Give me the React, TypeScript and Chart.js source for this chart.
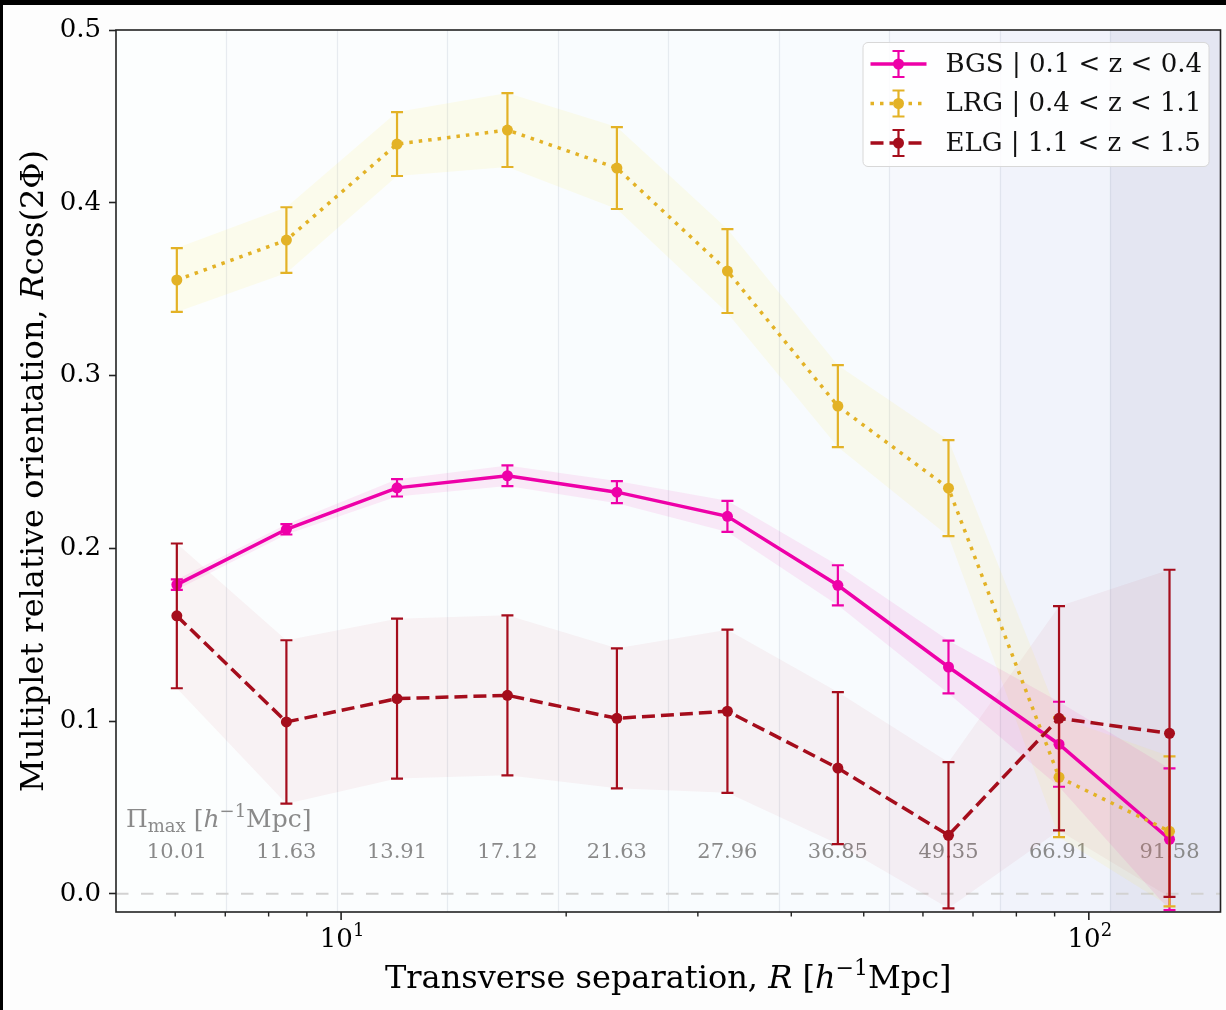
import React, { useEffect, useRef } from 'react';
import { Chart, registerables } from 'chart.js';

Chart.register(...registerables);

// ---------------- data ----------------
const R_CENTERS = [6.03, 8.45, 11.88, 16.69, 23.38, 32.86, 46.17, 64.91, 91.23, 128.2];
const BIN_EDGES = [5.0, 7.02, 9.87, 13.87, 19.49, 27.38, 38.47, 54.06, 75.96, 106.7, 150];
const PI_MAX = [10.01, 11.63, 13.91, 17.12, 21.63, 27.96, 36.85, 49.35, 66.91, 91.58];

const SERIES_NAMES = ['BGS | 0.1 < z < 0.4', 'LRG | 0.4 < z < 1.1', 'ELG | 1.1 < z < 1.5'];

const BGS_Y = [0.179, 0.211, 0.235, 0.242, 0.2325, 0.2185, 0.1786, 0.1313, 0.0866, 0.0316];
const BGS_ERR = [0.003, 0.003, 0.005, 0.006, 0.0064, 0.009, 0.0116, 0.0153, 0.0246, 0.041];

const LRG_Y = [0.3553, 0.3784, 0.434, 0.4421, 0.4201, 0.3605, 0.2823, 0.2348, 0.0675, 0.0362];
const LRG_ERR = [0.0185, 0.019, 0.0185, 0.0214, 0.0237, 0.0243, 0.0237, 0.0278, 0.0347, 0.0434];

const ELG_Y = [0.1609, 0.0995, 0.113, 0.1149, 0.1016, 0.1057, 0.0728, 0.0339, 0.1016, 0.0929];
const ELG_ERR = [0.0419, 0.0473, 0.0463, 0.0463, 0.0405, 0.0472, 0.044, 0.0423, 0.0649, 0.0947];

const Y_TICKS = [0.0, 0.1, 0.2, 0.3, 0.4, 0.5];
const X_MAJOR_TICKS = [10, 100];
const X_MINOR_TICKS = [6, 7, 8, 9, 20, 30, 40, 50, 60, 70, 80, 90];

// ---------------- styles ----------------
const FONT = "'DejaVu Serif', serif";
const COLORS = ['#ee00a8', '#e3b226', '#a50d1c'];
const BAND_FILLS = ['rgba(238,0,168,0.08)', 'rgba(255,228,50,0.09)', 'rgba(200,30,50,0.05)'];
const DASHES: number[][] = [[], [3.5, 6], [13, 6]];
const BIN_COLORS = ['#fcfefe', '#fbfdfe', '#fbfdfe', '#fafdfe', '#f9fcfe', '#f9fcfe', '#f8fbfe', '#f6f8fd', '#f1f3fb', '#e4e6f2'];

const seriesY = [BGS_Y, LRG_Y, ELG_Y];
const seriesErr = [BGS_ERR, LRG_ERR, ELG_ERR];

type Part = { t: string; font: string; dy?: number };

function drawParts(ctx: CanvasRenderingContext2D, parts: Part[], x: number, y: number, align: 'left' | 'center') {
  let total = 0;
  const widths = parts.map((p) => {
    ctx.font = p.font;
    const w = ctx.measureText(p.t).width;
    total += w;
    return w;
  });
  let cx = align === 'center' ? x - total / 2 : x;
  parts.forEach((p, i) => {
    ctx.font = p.font;
    ctx.fillText(p.t, cx, y + (p.dy || 0));
    cx += widths[i];
  });
}

const customPlugin = {
  id: 'custom',
  beforeDraw(chart: any) {
    const { ctx, width, height } = chart;
    ctx.save();
    ctx.fillStyle = '#fdfdfd';
    ctx.fillRect(0, 0, width, height);
    ctx.fillStyle = '#000';
    ctx.fillRect(0, 0, width, 5);
    ctx.fillRect(0, 0, 3, height);
    ctx.restore();
  },
  beforeDatasetsDraw(chart: any) {
    const { ctx, chartArea: a } = chart;
    const x = chart.scales.x;
    const y = chart.scales.y;
    ctx.save();
    ctx.beginPath();
    ctx.rect(a.left, a.top, a.right - a.left, a.bottom - a.top);
    ctx.clip();
    for (let i = 0; i < BIN_EDGES.length - 1; i++) {
      const x0 = x.getPixelForValue(BIN_EDGES[i]);
      const x1 = x.getPixelForValue(BIN_EDGES[i + 1]);
      ctx.fillStyle = BIN_COLORS[i];
      ctx.fillRect(x0, a.top, x1 - x0, a.bottom - a.top);
    }
    ctx.strokeStyle = 'rgba(185,195,210,0.3)';
    ctx.lineWidth = 1.2;
    for (let i = 1; i < BIN_EDGES.length - 1; i++) {
      const px = Math.round(x.getPixelForValue(BIN_EDGES[i])) + 0.5;
      ctx.beginPath();
      ctx.moveTo(px, a.top);
      ctx.lineTo(px, a.bottom);
      ctx.stroke();
    }
    // zero line
    const y0 = y.getPixelForValue(0);
    ctx.strokeStyle = '#d2d2d2';
    ctx.lineWidth = 2;
    ctx.setLineDash([12.5, 12.5]);
    ctx.beginPath();
    ctx.moveTo(a.left, y0);
    ctx.lineTo(a.right, y0);
    ctx.stroke();
    ctx.setLineDash([]);
    // Pi_max labels
    ctx.fillStyle = '#8a8a8a';
    ctx.textBaseline = 'middle';
    ctx.textAlign = 'center';
    ctx.font = `21px ${FONT}`;
    const ly = y.getPixelForValue(0.024);
    PI_MAX.forEach((v, i) => {
      ctx.fillText(v.toFixed(2), x.getPixelForValue(R_CENTERS[i]), ly);
    });
    ctx.textAlign = 'left';
    ctx.textBaseline = 'alphabetic';
    const hy = y.getPixelForValue(0.0437) + 9;
    drawParts(
      ctx,
      [
        { t: 'Π', font: `25px ${FONT}` },
        { t: 'max', font: `18px ${FONT}`, dy: 5 },
        { t: ' [', font: `25px ${FONT}` },
        { t: 'h', font: `italic 25px ${FONT}` },
        { t: '−1', font: `18px ${FONT}`, dy: -10 },
        { t: 'Mpc]', font: `25px ${FONT}` },
      ],
      a.left + 10,
      hy,
      'left'
    );
    ctx.restore();
  },
  beforeDatasetDraw(chart: any, args: any) {
    const ds: any = chart.data.datasets[args.index];
    if (!ds.errors) return;
    const { ctx } = chart;
    const y = chart.scales.y;
    ctx.save();
    ctx.strokeStyle = ds.borderColor;
    ctx.lineWidth = 2.2;
    ctx.setLineDash([]);
    args.meta.data.forEach((pt: any, j: number) => {
      const v = ds.data[j].y;
      const e = ds.errors[j];
      const yt = y.getPixelForValue(v + e);
      const yb = y.getPixelForValue(v - e);
      ctx.beginPath();
      ctx.moveTo(pt.x, yt);
      ctx.lineTo(pt.x, yb);
      ctx.moveTo(pt.x - 6, yt);
      ctx.lineTo(pt.x + 6, yt);
      ctx.moveTo(pt.x - 6, yb);
      ctx.lineTo(pt.x + 6, yb);
      ctx.stroke();
    });
    ctx.restore();
  },
  afterDatasetsDraw(chart: any) {
    const { ctx, chartArea: a } = chart;
    const x = chart.scales.x;
    ctx.save();
    // spines
    ctx.strokeStyle = '#222';
    ctx.lineWidth = 1.6;
    ctx.strokeRect(a.left, a.top, a.right - a.left, a.bottom - a.top);
    // x ticks
    ctx.strokeStyle = '#222';
    ctx.lineWidth = 1.4;
    X_MINOR_TICKS.forEach((v) => {
      const px = x.getPixelForValue(v);
      ctx.beginPath();
      ctx.moveTo(px, a.bottom);
      ctx.lineTo(px, a.bottom + 4.5);
      ctx.stroke();
    });
    ctx.lineWidth = 1.6;
    ctx.fillStyle = '#000';
    ctx.textBaseline = 'alphabetic';
    X_MAJOR_TICKS.forEach((v) => {
      const px = x.getPixelForValue(v);
      ctx.beginPath();
      ctx.moveTo(px, a.bottom);
      ctx.lineTo(px, a.bottom + 8);
      ctx.stroke();
      const exp = String(Math.round(Math.log10(v)));
      drawParts(
        ctx,
        [
          { t: '10', font: `26px ${FONT}` },
          { t: exp, font: `18px ${FONT}`, dy: -11 },
        ],
        px + 1,
        947,
        'center'
      );
    });
    ctx.restore();
  },
  afterDraw(chart: any) {
    const { ctx, chartArea: a } = chart;
    ctx.save();
    // axis titles
    ctx.fillStyle = '#000';
    ctx.textBaseline = 'alphabetic';
    drawParts(
      ctx,
      [
        { t: 'Transverse separation, ', font: `32px ${FONT}` },
        { t: 'R', font: `italic 32px ${FONT}` },
        { t: ' [', font: `32px ${FONT}` },
        { t: 'h', font: `italic 32px ${FONT}` },
        { t: '−1', font: `22px ${FONT}`, dy: -13 },
        { t: 'Mpc]', font: `32px ${FONT}` },
      ],
      (a.left + a.right) / 2,
      988,
      'center'
    );
    ctx.save();
    ctx.translate(43, (a.top + a.bottom) / 2);
    ctx.rotate(-Math.PI / 2);
    drawParts(
      ctx,
      [
        { t: 'Multiplet relative orientation, ', font: `32px ${FONT}` },
        { t: 'R', font: `italic 32px ${FONT}` },
        { t: 'cos(2Φ)', font: `32px ${FONT}` },
      ],
      0,
      0,
      'center'
    );
    ctx.restore();

    // legend
    const bx = a.right - 358;
    const by = a.top + 12;
    const bw = 346;
    const bh = 124;
    ctx.fillStyle = 'rgba(255,255,255,0.85)';
    ctx.strokeStyle = '#d8d8d8';
    ctx.lineWidth = 1;
    ctx.beginPath();
    (ctx as any).roundRect(bx + 0.5, by + 0.5, bw, bh, 5);
    ctx.fill();
    ctx.stroke();
    SERIES_NAMES.forEach((name, i) => {
      const ry = by + 22 + i * 39.5;
      const hx0 = bx + 8;
      const hx1 = bx + 64;
      const mx = (hx0 + hx1) / 2;
      ctx.strokeStyle = COLORS[i];
      ctx.lineWidth = 3.5;
      ctx.setLineDash(DASHES[i]);
      ctx.beginPath();
      ctx.moveTo(hx0, ry);
      ctx.lineTo(hx1, ry);
      ctx.stroke();
      ctx.setLineDash([]);
      ctx.lineWidth = 2.2;
      ctx.beginPath();
      ctx.moveTo(mx, ry - 13);
      ctx.lineTo(mx, ry + 13);
      ctx.moveTo(mx - 6, ry - 13);
      ctx.lineTo(mx + 6, ry - 13);
      ctx.moveTo(mx - 6, ry + 13);
      ctx.lineTo(mx + 6, ry + 13);
      ctx.stroke();
      ctx.fillStyle = COLORS[i];
      ctx.beginPath();
      ctx.arc(mx, ry, 5.5, 0, Math.PI * 2);
      ctx.fill();
      ctx.fillStyle = '#111';
      ctx.font = `26px ${FONT}`;
      ctx.textBaseline = 'middle';
      ctx.fillText(name, bx + 83, ry + 1);
    });
    ctx.restore();
  },
};

export default function App() {
  const canvasRef = useRef<HTMLCanvasElement | null>(null);

  useEffect(() => {
    document.body.style.margin = '0';
    const canvas = canvasRef.current;
    if (!canvas) return;

    const datasets: any[] = [];
    // error bands
    seriesY.forEach((ys, s) => {
      const errs = seriesErr[s];
      datasets.push({
        label: SERIES_NAMES[s] + ' upper',
        data: R_CENTERS.map((r, i) => ({ x: r, y: ys[i] + errs[i] })),
        borderWidth: 0,
        borderColor: 'rgba(0,0,0,0)',
        pointRadius: 0,
        fill: false,
        order: 20 + s,
      });
      datasets.push({
        label: SERIES_NAMES[s] + ' lower',
        data: R_CENTERS.map((r, i) => ({ x: r, y: ys[i] - errs[i] })),
        borderWidth: 0,
        borderColor: 'rgba(0,0,0,0)',
        pointRadius: 0,
        fill: '-1',
        backgroundColor: BAND_FILLS[s],
        order: 20 + s,
      });
    });
    // main lines
    seriesY.forEach((ys, s) => {
      datasets.push({
        label: SERIES_NAMES[s],
        data: R_CENTERS.map((r, i) => ({ x: r, y: ys[i] })),
        errors: seriesErr[s],
        borderColor: COLORS[s],
        backgroundColor: COLORS[s],
        borderWidth: 3.5,
        borderDash: DASHES[s],
        pointRadius: 5.5,
        pointBorderWidth: 0,
        pointBackgroundColor: COLORS[s],
        fill: false,
        tension: 0,
        order: 3 - s,
      });
    });

    const chart = new Chart(canvas, {
      type: 'line',
      data: { datasets },
      options: {
        animation: false,
        responsive: false,
        devicePixelRatio: 1,
        layout: { padding: { top: 30, right: 2, left: 0, bottom: 0 } },
        plugins: {
          legend: { display: false },
          tooltip: { enabled: false },
        },
        scales: {
          x: {
            type: 'logarithmic',
            min: 5,
            max: 150,
            ticks: { display: false },
            grid: { display: false },
            border: { display: false },
            afterFit: (scale: any) => {
              scale.height = 98;
            },
          },
          y: {
            type: 'linear',
            min: -0.0105,
            max: 0.5,
            afterBuildTicks: (scale: any) => {
              scale.ticks = Y_TICKS.map((v) => ({ value: v }));
            },
            ticks: {
              font: { family: "'DejaVu Serif'", size: 26 },
              color: '#000',
              padding: 8,
              callback: (v: any) => Number(v).toFixed(1),
            },
            grid: {
              drawOnChartArea: false,
              drawTicks: true,
              tickLength: 7,
              tickColor: '#222',
              tickWidth: 1.6,
            },
            border: { display: false },
            afterFit: (scale: any) => {
              scale.width = 116;
            },
          },
        },
      } as any,
      plugins: [customPlugin as any],
    });

    return () => chart.destroy();
  }, []);

  return (
    <div style={{ width: 1226, height: 1010 }}>
      <canvas ref={canvasRef} width={1226} height={1010} style={{ display: 'block' }} />
    </div>
  );
}
